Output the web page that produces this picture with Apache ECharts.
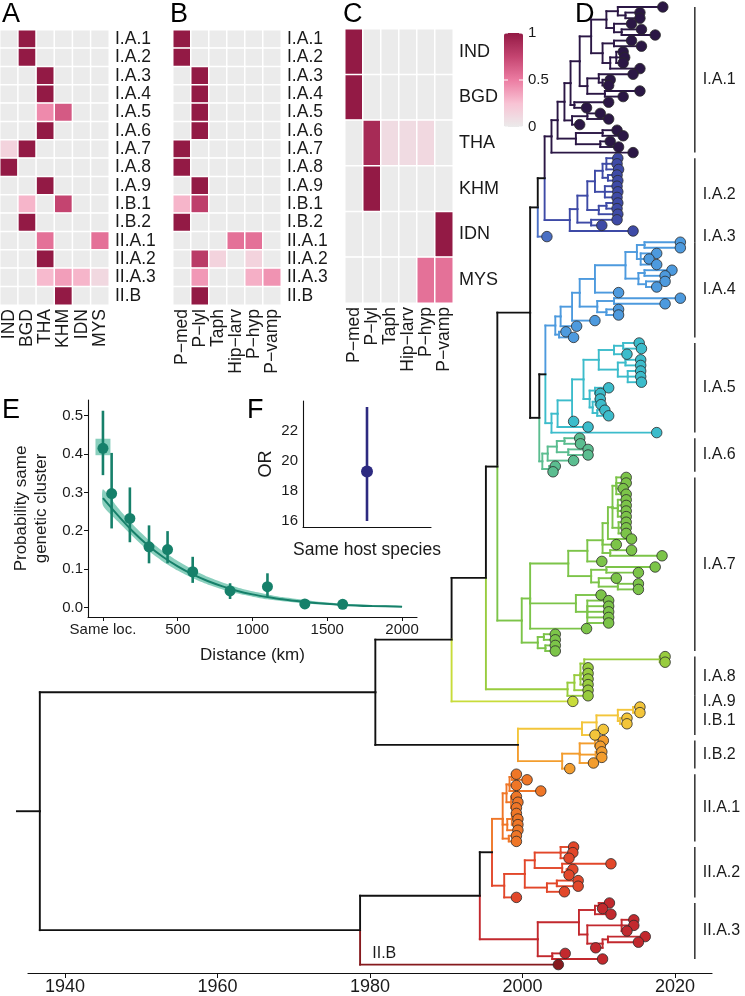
<!DOCTYPE html>
<html><head><meta charset="utf-8">
<script src="https://cdn.jsdelivr.net/npm/echarts@6/dist/echarts.min.js"></script>
<style>html,body{margin:0;padding:0;background:#fff}#c{width:745px;height:996px}</style>
</head><body><div id="c"></div>
<script>
const FONT = "'Liberation Sans', Arial, Helvetica, sans-serif";
const TXT = '#1a1a1a';

// ---------- Panels A-C ----------
const clusters = ['I.A.1','I.A.2','I.A.3','I.A.4','I.A.5','I.A.6','I.A.7','I.A.8','I.A.9','I.B.1','I.B.2','II.A.1','II.A.2','II.A.3','II.B'];
const countries = ['IND','BGD','THA','KHM','IDN','MYS'];
const hosts = ['P\u2212med','P\u2212lyl','Taph','Hip\u2212larv','P\u2212hyp','P\u2212vamp'];
const clusterByCountry = [
  [0,1,0,0,0,0],[0,1,0,0,0,0],[0,0,1,0,0,0],[0,0,1,0,0,0],[0,0,0.45,0.65,0,0],
  [0,0,1,0,0,0],[0.15,1,0,0,0,0],[1,0,0,0,0,0],[0,0,1,0,0,0],[0,0.3,0,0.75,0,0],
  [0,1,0,0,0,0],[0,0,0.55,0,0,0.55],[0,0,1,0,0,0],[0,0,0.28,0.38,0.3,0.12],[0,0,0,1,0,0]
];
const clusterByHost = [
  [1,0,0,0,0,0],[1,0,0,0,0,0],[0,1,0,0,0,0],[0,1,0,0,0,0],[0,1,0,0,0,0],
  [0,1,0,0,0,0],[1,0,0,0,0,0],[1,0,0,0,0,0],[0,1,0,0,0,0],[0.3,0.78,0,0,0,0],
  [1,0,0,0,0,0],[0,0,0,0.55,0.55,0],[0,0.8,0.15,0,0.15,0],[0,0.4,0,0,0.32,0.42],[0,1,0,0,0,0]
];
const countryByHost = [
  [1,0,0,0,0,0],[1,0,0,0,0,0],[0,0.9,0.1,0.1,0.12,0],[0,1,0,0,0,0],[0,0,0,0,0,1],[0,0,0,0,0.55,0.55]
];
const heatColors = ['#ebebeb','#f8c3d4','#ec7ca2','#c44470','#931a45'];
const colorbarTicks = [1, 0.5, 0];

// ---------- Panel E ----------
const distKm   = [0, 58, 180, 308, 432, 600, 850, 1100, 1350, 1603];
const probMean = [0.415, 0.297, 0.232, 0.158, 0.151, 0.093, 0.043, 0.054, 0.009, 0.008];
const probLo   = [0.345, 0.206, 0.170, 0.115, 0.115, 0.064, 0.022, 0.028, 0.004, 0.004];
const probHi   = [0.513, 0.403, 0.313, 0.214, 0.199, 0.132, 0.063, 0.089, 0.015, 0.013];
const curveKm   = [0, 100, 200, 300, 400, 500, 600, 700, 800, 900, 1000, 1100, 1200, 1400, 1600, 1800, 2000];
const curveMean = [0.285, 0.240, 0.198, 0.162, 0.132, 0.107, 0.086, 0.069, 0.055, 0.043, 0.034, 0.027, 0.021, 0.012, 0.0065, 0.0035, 0.002];
const curveLo   = [0.266, 0.224, 0.185, 0.149, 0.120, 0.096, 0.076, 0.060, 0.047, 0.036, 0.028, 0.021, 0.016, 0.009, 0.005, 0.002, 0.001];
const curveHi   = [0.308, 0.260, 0.216, 0.178, 0.147, 0.121, 0.099, 0.080, 0.065, 0.052, 0.042, 0.034, 0.027, 0.017, 0.010, 0.006, 0.004];
const sameLocBand = [-50, 0.397, 50, 0.440];
const eXTicks = [0, 500, 1000, 1500, 2000];
const eYTicks = [0, 0.1, 0.2, 0.3, 0.4, 0.5];

// ---------- Panel F ----------
const orCategory = ['Same host species'];
const orMean = [19.3];
const orLo = [16.0];
const orHi = [23.6];
const fYTicks = [16, 18, 20, 22];

// ---------- Panel D (time-scaled tree) ----------
const treeYears = [1940, 1960, 1980, 2000, 2020];
const cladeColors = {
  'I.A.1':'#2b1745','I.A.2':'#3e4aa6','I.A.3':'#4a6fc4','I.A.4':'#4d9ade','I.A.5':'#3cbccb',
  'I.A.6':'#5bbd90','I.A.7':'#7cc449','I.A.8':'#98cc3e','I.A.9':'#c8dc3a','I.B.1':'#f3c53a',
  'I.B.2':'#f39d2e','II.A.1':'#ef7627','II.A.2':'#e2472a','II.A.3':'#c2292e','II.B':'#861a1e'
};
// node = [nodeYear, child, child, ...]; tip = sampling year
const treeIA1 = [2003.8,
  [2004.6,
    [2005.5,
      [2006.3,
        [2007.5,
          [2009.0,
            [2011.0, [2012.5, 2018.4, [2013.5, 2015.4, 2015.4]], [2012.0, 2014.3, [2013.0, 2015.6, 2017.4]]],
            [2010.5, [2012.0, 2014.3, 2015.6], [2011.5, [2012.3, 2013.2, 2013.4, 2013.2], 2015.4]]
          ],
          [2008.5, [2010.0, 2014.5, [2010.5, 2011.5, 2011.3]], [2010.8, 2015.4, 2013.2]]
        ],
        [2006.8, 2011.3, 2008.4]
      ],
      [2006.5, [2008.5, 2010.2, 2011.3], 2007.5]
    ],
    [2007.0, [2010.5, 2012.4, 2013.2], [2010.2, 2011.5, 2012.6]]
  ],
  2014.5
];
const treeIA2 = [2006.2,
  [2007.2,
    [2008.5,
      [2009.5, [2010.5, [2011.0, 2012.5, 2012.4, 2012.6], [2011.2, 2012.4, 2012.5]], [2010.8, 2012.4, 2012.5, 2012.4]],
      [2010.0, [2011.0, 2012.5, 2012.4], 2012.5]
    ],
    [2009.0, 2012.4, 2010.4]
  ],
  2014.5
];
const treeIA3 = 2003.2;
const treeIA4 = [2004.3,
  [2005.0,
    [2006.5,
      [2007.5,
        [2009.5,
          [2013.5,
            [2015.0, [2016.0, 2020.7, 2020.7], [2015.5, 2017.6, 2016.6, 2017.6]],
            [2015.2, [2016.0, 2019.6, 2018.7], [2016.2, 2018.7, 2017.6]]
          ],
          2012.6
        ],
        [2009.8, [2012.0, 2020.7, 2018.7], [2011.0, 2012.6, 2012.6]]
      ],
      2009.5
    ],
    2007.1
  ],
  [2004.8, 2005.7, 2006.7]
];
const treeIA5 = [2003.8,
  [2004.6,
    [2006.5,
      [2008.0,
        [2010.0,
          [2012.0, [2013.2, 2015.3, 2015.6], 2013.7],
          [2012.5, [2013.5, 2015.5, 2015.5], [2013.8, 2015.5, 2015.5, 2015.6]]
        ],
        [2008.8, [2009.5, 2011.3, 2010.2], [2009.2, [2009.6, 2010.2, 2010.3], [2009.8, 2010.8, 2011.3]]]
      ],
      2006.7
    ],
    2008.6
  ],
  2017.6
];
const treeIA6 = [2002.6, [2003.3, [2004.5, [2005.5, 2007.5, 2007.6], [2006.0, 2008.6, 2008.6]], 2006.7], [2003.5, 2004.3, 2004.0]];
const treeIA7 = [1999.9,
  [2001.0,
    [2006.0,
      [2008.5,
        [2010.5,
          [2011.2, [2011.8, [2012.3, 2013.6, 2013.6, 2013.2, 2013.6], [2012.5, 2013.6, 2013.6, 2013.6, 2013.6], [2012.6, 2013.6, 2013.6, 2013.6]], 2014.3],
          2012.3,
          [2011.5, 2014.3, 2018.3]
        ],
        2010.4
      ],
      [2009.0, [2011.0, 2017.4, 2015.2], [2010.0, 2012.3, [2012.5, 2015.2, 2015.2]]]
    ],
    [2007.0, 2010.3, [2008.5, 2011.3, 2011.3, 2011.3, 2011.3, 2011.3]],
    2008.4
  ],
  [2002.0, [2002.8, 2004.3, 2004.3], [2003.0, 2004.3, 2004.3]]
];
const treeIA8 = [2005.9, [2006.8, [2007.6, [2008.1, [2018.0, 2018.7, 2018.7], 2008.6], 2008.6, 2008.6, 2008.6], 2008.6], 2008.6];
const treeIA9 = 2006.6;
const treeIB1 = [2007.8, [2009.7, [2012.5, [2014.5, 2015.4, 2015.4], [2012.8, 2013.7, 2013.7]], 2010.6], 2009.5];
const treeIB2 = [2005.2, [2007.5, [2009.5, 2010.6, 2010.2], [2009.6, 2010.4, 2010.4], 2009.3], 2006.2];
const treeIIA1 = [1997.4,
  [1997.9, [1998.3, [1998.6, 1999.2, 2000.6], 1999.2, 2002.4], [1998.5, 1999.2, 1999.4, 1999.2]],
  [1998.0, [1998.6, 1999.2, 1999.4, 1999.4], 1999.4],
  [1998.2, 1999.2, 1999.2]
];
const treeIIA2 = [1997.6,
  [2000.3,
    [2001.6, [2005.0, 2006.7, 2006.6, 2006.1], [2005.2, 2011.6, [2005.8, 2006.6, 2006.1]]],
    [2003.2, [2004.5, 2007.3, 2007.3], 2005.5]
  ],
  1999.2
];
const treeIIA3 = [2002.0,
  [2007.4,
    [2009.5, [2010.0, 2011.4, 2010.5], 2011.6],
    [2008.5, [2013.0, 2014.6, 2014.6, 2013.7], [2010.5, [2011.2, 2016.1, 2015.2], 2009.6]]
  ],
  [2003.9, 2005.6, 2010.5]
];
const treeIIB = 2004.7;
const cladeTrees = {
  'I.A.1':treeIA1,'I.A.2':treeIA2,'I.A.3':treeIA3,'I.A.4':treeIA4,'I.A.5':treeIA5,'I.A.6':treeIA6,
  'I.A.7':treeIA7,'I.A.8':treeIA8,'I.A.9':treeIA9,'I.B.1':treeIB1,'I.B.2':treeIB2,
  'II.A.1':treeIIA1,'II.A.2':treeIIA2,'II.A.3':treeIIA3,'II.B':treeIIB
};
const backbone = [1936.7,
  [1980.7,
    [1990.7,
      [1995.2,
        [1996.7,
          [2001.0,
            [2002.0, [2002.9, 'I.A.1', 'I.A.2'], 'I.A.3'],
            [2002.2, [2003.0, 'I.A.4', 'I.A.5'], 'I.A.6']
          ],
          'I.A.7'
        ],
        'I.A.8'
      ],
      'I.A.9'
    ],
    [1999.4, 'I.B.1', 'I.B.2']
  ],
  [1978.7,
    [1994.4, [1996.0, 'II.A.1', 'II.A.2'], 'II.A.3'],
    'II.B'
  ]
];
const rootStubYear = 1933.7;
const labelledClades = ['I.A.1','I.A.2','I.A.3','I.A.4','I.A.5','I.A.6','I.A.7','I.A.8','I.A.9','I.B.1','I.B.2','II.A.1','II.A.2','II.A.3'];

// ---------- tree layout (ggtree-like: tips evenly spaced, node = mean of children) ----------
const tipPts = [], tipCols = [], segs = [], segCols = [], cladeRange = {};
let tipCounter = 0;
function nodeTime(k){ if (typeof k === 'string') return nodeTime(cladeTrees[k]); if (typeof k === 'number') return k; return k[0]; }
function lay(node, color){
  if (typeof node === 'string'){
    const s = tipCounter; const y = lay(cladeTrees[node], cladeColors[node]);
    cladeRange[node] = [s, tipCounter - 1]; return y;
  }
  if (typeof node === 'number'){ const y = tipCounter++; tipPts.push([node, y]); tipCols.push(color); return y; }
  const t = node[0], kids = node.slice(1), ys = [], cols = [];
  kids.forEach(k => { cols.push(typeof k === 'string' ? cladeColors[k] : color); ys.push(lay(k, color)); });
  const y = ys.reduce((a,b)=>a+b,0) / ys.length;
  kids.forEach((k,i) => {
    segs.push([t, y, t, ys[i]]); segCols.push(cols[i]);
    segs.push([t, ys[i], nodeTime(k), ys[i]]); segCols.push(cols[i]);
  });
  return y;
}
const rootY = lay(backbone, '#111');
segs.push([rootStubYear, rootY, backbone[0], rootY]); segCols.push('#111');
const labelData = labelledClades.map(n => { const r = cladeRange[n]; return r[0] === r[1] ? [r[0]-1, r[1]+1] : [r[0], r[1]]; });
const labelBarYear = 2022.6;
const iiBIdx = cladeRange['II.B'][0];

// ---------- option ----------
const hm = (m) => { const out = []; m.forEach((row,r) => row.forEach((v,c) => out.push([c, r, v]))); return out; };
const catX = (gi, data, fs) => ({type:'category', gridIndex:gi, data, axisLine:{show:false}, axisTick:{show:false}, splitLine:{show:false},
  axisLabel:{interval:0, rotate:90, fontSize:fs, color:TXT, margin:4, fontFamily:FONT}});
const catY = (gi, data, fs, margin) => ({type:'category', gridIndex:gi, data, inverse:true, position:'right', axisLine:{show:false}, axisTick:{show:false}, splitLine:{show:false},
  axisLabel:{interval:0, fontSize:fs, color:TXT, margin, fontFamily:FONT}});
const axLine = {show:true, onZero:false, lineStyle:{color:'#111', width:1.1}};

const option = {
  animation:false,
  textStyle:{fontFamily:FONT},
  grid:[
    {left:0, top:30, width:109, height:275},
    {left:173, top:30, width:108, height:275},
    {left:345, top:29, width:108, height:274},
    {left:88, top:400, width:329, height:217},
    {left:303, top:401, width:128, height:126},
    {left:28, top:7, right:33, bottom:23}
  ],
  xAxis:[
    catX(0, countries, 17.5), catX(1, hosts, 17.5), catX(2, hosts, 17.5),
    {type:'value', gridIndex:3, min:-100, max:2100, axisLine:axLine, splitLine:{show:false},
     axisTick:{customValues:eXTicks, length:4, lineStyle:{color:'#111'}},
     axisLabel:{customValues:eXTicks, fontSize:15, color:TXT, margin:5, formatter:v => v === 0 ? 'Same loc.' : String(v)},
     name:'Distance (km)', nameLocation:'middle', nameGap:30, nameTextStyle:{fontSize:17, color:TXT}},
    {type:'category', gridIndex:4, data:orCategory, axisLine:axLine, axisTick:{show:false}, splitLine:{show:false},
     axisLabel:{fontSize:17.5, color:TXT, margin:14}},
    {type:'value', gridIndex:5, min:1935.15, max:2024.85, axisLine:{show:true, onZero:false, lineStyle:{color:'#111', width:1.2}}, splitLine:{show:false},
     axisTick:{customValues:treeYears, length:5, lineStyle:{color:'#111'}},
     axisLabel:{customValues:treeYears, fontSize:18, color:TXT, margin:5, formatter:v => String(v)}}
  ],
  yAxis:[
    catY(0, clusters, 17.5, 6), catY(1, clusters, 17.5, 6), catY(2, countries, 18, 6),
    {type:'value', gridIndex:3, min:-0.025, max:0.541, axisLine:axLine, splitLine:{show:false},
     axisTick:{customValues:eYTicks, length:4, lineStyle:{color:'#111'}},
     axisLabel:{customValues:eYTicks, fontSize:15, color:TXT, margin:5, formatter:v => v.toFixed(1)},
     name:'Probability same\ngenetic cluster', nameLocation:'middle', nameGap:37, nameRotate:90,
     nameTextStyle:{fontSize:17, color:TXT, lineHeight:20}},
    {type:'value', gridIndex:4, min:15.6, max:24.0, axisLine:axLine, splitLine:{show:false},
     axisTick:{customValues:fYTicks, length:4, lineStyle:{color:'#111'}},
     axisLabel:{customValues:fYTicks, fontSize:15, color:TXT, margin:5},
     name:'OR', nameLocation:'middle', nameGap:28, nameRotate:90, nameTextStyle:{fontSize:18, color:TXT}},
    {type:'value', gridIndex:5, min:0, max:172.5, inverse:true, show:false, axisLine:{onZero:false}}
  ],
  visualMap:[{type:'continuous', min:0, max:1, seriesIndex:[0,1,2], inRange:{color:heatColors},
    left:504, top:33, itemWidth:19, itemHeight:94, padding:0, calculable:false, show:true, text:null}],
  graphic:[
    {type:'text', left:2, top:1, style:{text:'A', fill:'#000', font:'27px ' + FONT}},
    {type:'text', left:170, top:1, style:{text:'B', fill:'#000', font:'27px ' + FONT}},
    {type:'text', left:343, top:1, style:{text:'C', fill:'#000', font:'27px ' + FONT}},
    {type:'text', left:575, top:1, style:{text:'D', fill:'#000', font:'27px ' + FONT}},
    {type:'text', left:2, top:397, style:{text:'E', fill:'#000', font:'27px ' + FONT}},
    {type:'text', left:247, top:397, style:{text:'F', fill:'#000', font:'27px ' + FONT}},
    ...colorbarTicks.map(v => ({type:'text', x:528, y:33 + (1 - v) * 94, style:{text:String(v), font:'15px ' + FONT, fill:TXT, verticalAlign:'middle'}})),
    ...colorbarTicks.map(v => ({type:'line', shape:{x1:504, y1:33 + (1 - v) * 94, x2:508, y2:33 + (1 - v) * 94}, style:{stroke:'#fff', lineWidth:1}, z:200})),
    ...colorbarTicks.map(v => ({type:'line', shape:{x1:519, y1:33 + (1 - v) * 94, x2:523, y2:33 + (1 - v) * 94}, style:{stroke:'#fff', lineWidth:1}, z:200}))
  ],
  series:[
    {type:'heatmap', xAxisIndex:0, yAxisIndex:0, data:hm(clusterByCountry), itemStyle:{borderColor:'#fff', borderWidth:1.5}},
    {type:'heatmap', xAxisIndex:1, yAxisIndex:1, data:hm(clusterByHost), itemStyle:{borderColor:'#fff', borderWidth:1.5}},
    {type:'heatmap', xAxisIndex:2, yAxisIndex:2, data:hm(countryByHost), itemStyle:{borderColor:'#fff', borderWidth:1.5}},
    // E ribbon
    {type:'custom', xAxisIndex:3, yAxisIndex:3, data:curveKm.map((d,i) => [d, curveLo[i], curveHi[i]]), encode:{x:0, y:[1,2]}, z:1,
     renderItem:(p, api) => {
       if (p.dataIndex !== 0) return null;
       const up = curveKm.map((d,i) => api.coord([d, curveHi[i]]));
       const dn = curveKm.map((d,i) => api.coord([d, curveLo[i]])).reverse();
       return {type:'polygon', shape:{points:up.concat(dn), smooth:0.2}, style:{fill:'rgba(40,168,134,0.55)'}};
     }},
    // same-location band
    {type:'custom', xAxisIndex:3, yAxisIndex:3, data:[sameLocBand], encode:{x:[0,2], y:[1,3]}, z:1,
     renderItem:(p, api) => {
       const a = api.coord([api.value(0), api.value(3)]), b = api.coord([api.value(2), api.value(1)]);
       return {type:'rect', shape:{x:a[0], y:a[1], width:b[0]-a[0], height:b[1]-a[1]}, style:{fill:'rgba(40,168,134,0.55)'}};
     }},
    {type:'line', xAxisIndex:3, yAxisIndex:3, data:curveKm.map((d,i) => [d, curveMean[i]]), showSymbol:false, smooth:0.3,
     lineStyle:{color:'#16806a', width:2}, z:2},
    {type:'custom', xAxisIndex:3, yAxisIndex:3, data:distKm.map((d,i) => [d, probLo[i], probHi[i]]), encode:{x:0, y:[1,2]}, z:3,
     renderItem:(p, api) => {
       const a = api.coord([api.value(0), api.value(1)]), b = api.coord([api.value(0), api.value(2)]);
       return {type:'line', shape:{x1:a[0], y1:a[1], x2:b[0], y2:b[1]}, style:{stroke:'#16806a', lineWidth:2.6}};
     }},
    {type:'scatter', xAxisIndex:3, yAxisIndex:3, data:distKm.map((d,i) => [d, probMean[i]]), symbolSize:11,
     itemStyle:{color:'#16806a', opacity:1}, z:4},
    // F
    {type:'custom', xAxisIndex:4, yAxisIndex:4, data:orCategory.map((c,i) => [i, orLo[i], orHi[i]]), encode:{x:0, y:[1,2]}, z:3,
     renderItem:(p, api) => {
       const a = api.coord([api.value(0), api.value(1)]), b = api.coord([api.value(0), api.value(2)]);
       return {type:'line', shape:{x1:a[0], y1:a[1], x2:b[0], y2:b[1]}, style:{stroke:'#2d2a80', lineWidth:2.6}};
     }},
    {type:'scatter', xAxisIndex:4, yAxisIndex:4, data:orCategory.map((c,i) => [c, orMean[i]]), symbolSize:12,
     itemStyle:{color:'#2d2a80', opacity:1}, z:4},
    // D branches
    {type:'custom', xAxisIndex:5, yAxisIndex:5, clip:false, progressive:0, data:segs, encode:{x:[0,2], y:[1,3]}, z:2,
     renderItem:(p, api) => {
       const a = api.coord([api.value(0), api.value(1)]), b = api.coord([api.value(2), api.value(3)]);
       return {type:'line', shape:{x1:a[0], y1:a[1], x2:b[0], y2:b[1]}, style:{stroke:segCols[p.dataIndex], lineWidth:1.9, lineCap:'square'}};
     }},
    // D tips
    {type:'scatter', xAxisIndex:5, yAxisIndex:5, clip:false, progressive:0,
     data:tipPts.map((pt,i) => ({value:pt, itemStyle:{color:tipCols[i]}})), symbolSize:10.5,
     itemStyle:{borderColor:'#2a2a2a', borderWidth:0.8, opacity:1}, z:5},
    // D clade labels
    {type:'custom', xAxisIndex:5, yAxisIndex:5, clip:false, data:labelData, encode:{y:[0,1]}, z:3,
     renderItem:(p, api) => {
       const a = api.coord([labelBarYear, api.value(0)]), b = api.coord([labelBarYear, api.value(1)]);
       return {type:'group', children:[
         {type:'line', shape:{x1:a[0], y1:a[1], x2:b[0], y2:b[1]}, style:{stroke:'#111', lineWidth:1.3}},
         {type:'text', x:a[0] + 8, y:(a[1] + b[1]) / 2, style:{text:labelledClades[p.dataIndex], font:'16px ' + FONT, fill:TXT, verticalAlign:'middle', align:'left'}}
       ]};
     }},
    {type:'custom', xAxisIndex:5, yAxisIndex:5, clip:false, data:[[1980.3, iiBIdx - 2.0]], encode:{x:0, y:1}, z:3,
     renderItem:(p, api) => {
       const a = api.coord([api.value(0), api.value(1)]);
       return {type:'text', x:a[0], y:a[1], style:{text:'II.B', font:'16px ' + FONT, fill:TXT, verticalAlign:'middle', align:'left'}};
     }}
  ]
};
const chart = echarts.init(document.getElementById('c'));
chart.setOption(option);
</script></body></html>
